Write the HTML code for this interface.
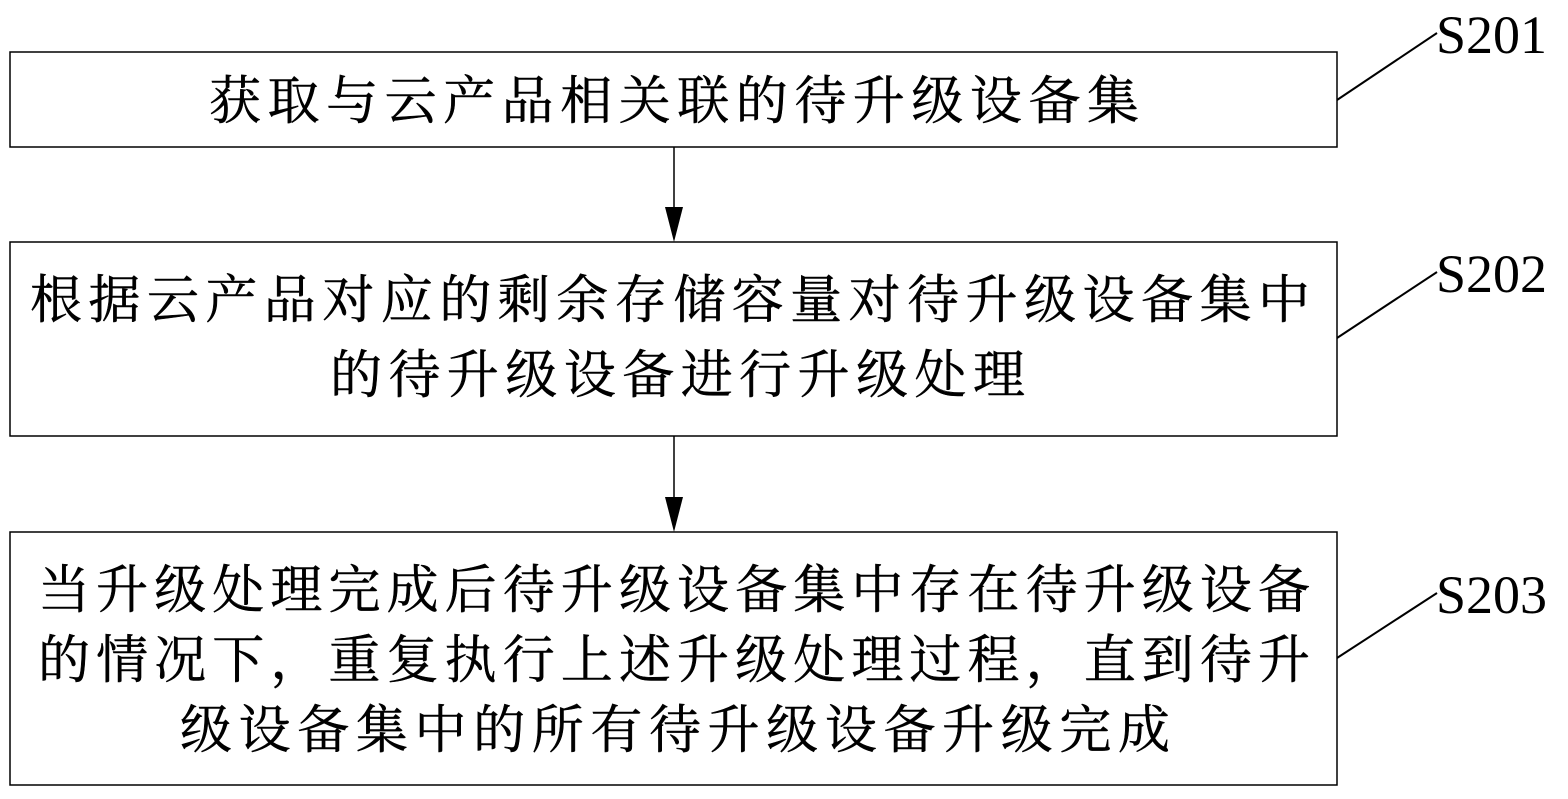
<!DOCTYPE html>
<html><head><meta charset="utf-8"><style>
html,body{margin:0;padding:0;background:#fff;width:1568px;height:799px;overflow:hidden}
svg text{font-family:"Noto Serif CJK SC","Liberation Serif",serif;fill:#000}
.s{font-family:"Liberation Serif",serif;font-size:54px}
.c{font-size:52px;stroke:#000;stroke-width:0.5}
</style></head><body>
<svg width="1568" height="799" viewBox="0 0 1568 799" xmlns="http://www.w3.org/2000/svg">
<g fill="none" stroke="#000" stroke-width="1.5">
<rect x="10" y="52" width="1327" height="95"/>
<rect x="10" y="242" width="1327" height="194"/>
<rect x="10" y="532" width="1327" height="253"/>
<line x1="674" y1="147" x2="674" y2="212"/>
<line x1="674" y1="436" x2="674" y2="502"/>
<line x1="1337" y1="100" x2="1437" y2="33" stroke-width="2"/>
<line x1="1337" y1="338" x2="1437" y2="272" stroke-width="2"/>
<line x1="1337" y1="658" x2="1437" y2="593" stroke-width="2"/>
</g>
<polygon points="665,207 683,207 674,242" fill="#000"/>
<polygon points="665,497 683,497 674,532" fill="#000"/>
<text class="s" x="1436" y="53">S201</text>
<text class="s" x="1436" y="292">S202</text>
<text class="s" x="1436" y="613">S203</text>
<text class="c" x="209" y="119" textLength="930" lengthAdjust="spacing">获取与云产品相关联的待升级设备集</text>
<text class="c" x="30" y="318" textLength="1280" lengthAdjust="spacing">根据云产品对应的剩余存储容量对待升级设备集中</text>
<text class="c" x="330" y="393" textLength="695" lengthAdjust="spacing">的待升级设备进行升级处理</text>
<text class="c" x="38" y="608" textLength="1272" lengthAdjust="spacing">当升级处理完成后待升级设备集中存在待升级设备</text>
<text class="c" x="38" y="678" textLength="1272" lengthAdjust="spacing">的情况下，重复执行上述升级处理过程，直到待升</text>
<text class="c" x="180" y="748" textLength="990" lengthAdjust="spacing">级设备集中的所有待升级设备升级完成</text>
</svg>
</body></html>
